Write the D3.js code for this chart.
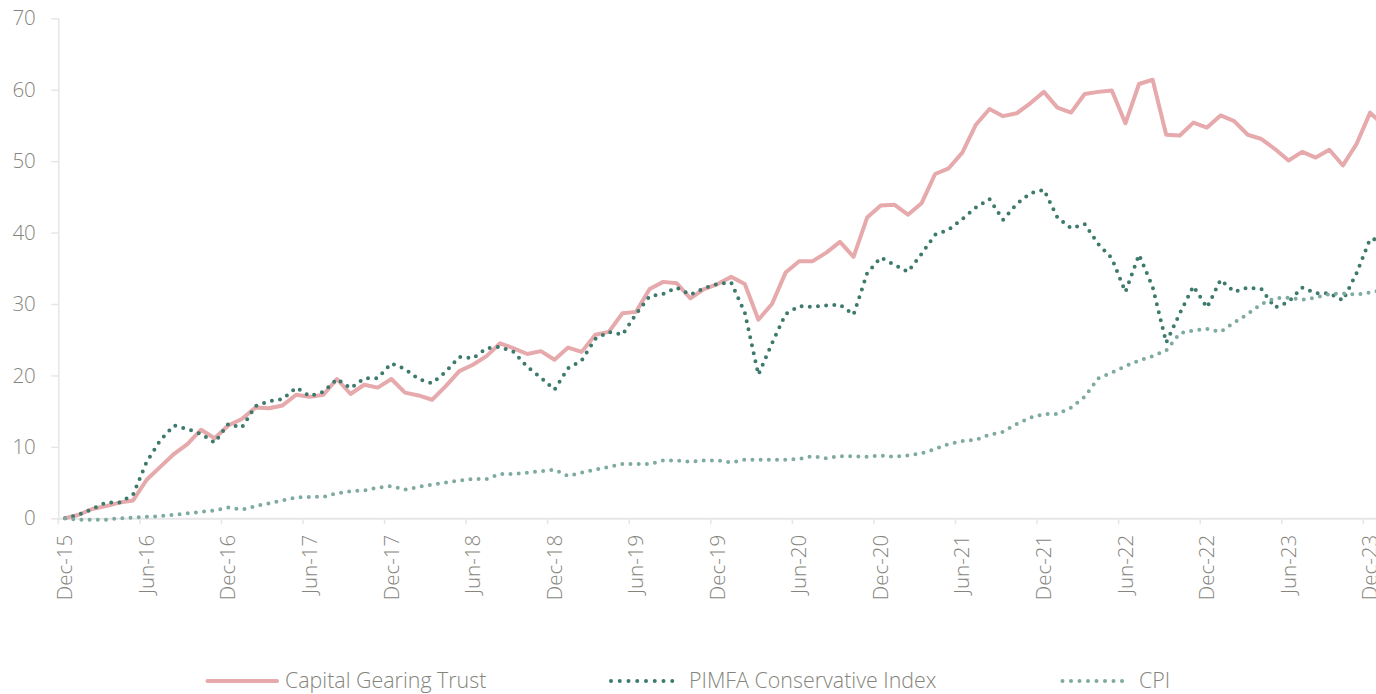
<!DOCTYPE html>
<html><head><meta charset="utf-8">
<script src="https://cdn.jsdelivr.net/npm/d3@7"></script>
<style>
body{margin:0;background:#fff}
svg{display:block}
text{font-family:"Open Sans",sans-serif;font-weight:300;fill:#85857d}
</style>
</head><body>
<svg id="c" width="1376" height="694"></svg>
<script>
// Monthly categories Dec-15 .. Jan-24
const categories = d3.utcMonth.range(new Date(Date.UTC(2015,11,1)), new Date(Date.UTC(2024,1,1))).map(d3.utcFormat("%b-%y"));
const tickLabels = ["Dec-15","Jun-16","Dec-16","Jun-17","Dec-17","Jun-18","Dec-18","Jun-19","Dec-19","Jun-20","Dec-20","Jun-21","Dec-21","Jun-22","Dec-22","Jun-23","Dec-23"];
const yTicks = [0,10,20,30,40,50,60,70];
const seriesNames = ["Capital Gearing Trust","PIMFA Conservative Index","CPI"];

const cgt = [0,0.5,1.3,1.7,2.2,2.5,5.4,7.2,9.0,10.4,12.4,11.2,13.0,13.9,15.5,15.4,15.8,17.3,17.0,17.3,
19.5,17.4,18.7,18.3,19.5,17.6,17.2,16.6,18.5,20.6,21.5,22.7,24.5,23.8,23.0,23.4,22.2,23.9,23.3,25.7,
26.1,28.7,28.9,32.1,33.1,32.9,30.8,32.1,32.8,33.8,32.8,27.8,30.0,34.4,36.0,36.0,37.2,38.7,36.6,42.1,
43.8,43.9,42.5,44.1,48.2,49.0,51.2,55.1,57.3,56.3,56.7,58.1,59.7,57.5,56.8,59.4,59.7,59.9,55.3,60.8,
61.4,53.7,53.6,55.4,54.7,56.4,55.6,53.7,53.1,51.7,50.1,51.3,50.5,51.6,49.4,52.4,56.8,55.0];

const pimfa = [0,0.5,1.3,2.2,2.2,3.3,7.9,10.9,13.0,12.5,11.8,10.6,13.2,12.7,15.7,16.4,16.7,18.3,17.1,17.7,
19.5,18.2,19.6,19.6,21.7,20.9,19.5,18.9,20.5,22.6,22.4,23.8,24.0,23.3,21.2,19.7,18.0,21.0,22.1,25.1,
26.1,25.7,28.6,31.1,31.4,32.3,31.3,32.2,32.8,33.0,28.8,20.1,24.5,28.6,29.7,29.6,29.8,29.9,28.5,34.3,
36.5,35.5,34.5,37.0,39.7,40.4,41.9,43.5,44.7,41.8,44.0,45.5,46.0,42.1,40.6,41.2,38.4,36.4,31.7,36.9,
32.4,24.6,28.7,32.5,29.5,33.4,31.7,32.3,32.1,29.5,30.3,32.3,31.5,31.5,30.5,34.3,39.1,39.0];

const cpi = [0,-0.2,-0.2,-0.2,0.0,0.1,0.2,0.3,0.5,0.7,0.9,1.1,1.5,1.2,1.7,2.1,2.5,2.9,3.0,3.0,
3.5,3.8,3.9,4.3,4.5,4.0,4.4,4.7,5.0,5.3,5.5,5.5,6.2,6.2,6.4,6.6,6.8,5.9,6.4,6.8,
7.2,7.6,7.6,7.6,8.1,8.1,7.9,8.1,8.1,7.8,8.2,8.2,8.2,8.2,8.3,8.7,8.4,8.7,8.7,8.6,
8.8,8.6,8.8,9.1,9.7,10.4,10.8,11.0,11.7,12.1,13.2,14.1,14.6,14.6,15.5,17.0,19.6,20.4,21.3,22.1,
22.7,23.5,25.9,26.3,26.5,26.1,27.4,28.6,30.0,30.8,30.9,30.6,30.9,31.4,31.5,31.3,31.6,32.0];

const svg = d3.select("#c");
const plotLeft = 58.3, plotTop = 18.3, plotBottom = 518.3, step = 13.594;
const x = d3.scaleBand().domain(categories).range([plotLeft, plotLeft + categories.length * step]);
const y = d3.scaleLinear().domain([0,70]).range([plotBottom, plotTop]);
const bw = x.bandwidth();
const axisColor = "#e6e6e6";

// Y axis
const ya = svg.append("g").attr("transform", `translate(${plotLeft},0)`)
  .call(d3.axisLeft(y).tickValues(yTicks).tickSize(7).tickSizeOuter(0).tickPadding(15.5));
ya.select(".domain").attr("stroke", axisColor).attr("stroke-width", 1.5);
ya.selectAll(".tick line").attr("stroke", axisColor).attr("stroke-width", 1.5);
ya.selectAll(".tick text").attr("font-size", 20.5).attr("fill", "#85857d")
  .style("font-family", '"Open Sans", sans-serif').style("font-weight", 300);

// X axis
const xa = svg.append("g").attr("transform", `translate(0,${plotBottom})`)
  .call(d3.axisBottom(x).tickValues(tickLabels).tickSize(6).tickSizeOuter(0));
xa.select(".domain").attr("stroke", axisColor).attr("stroke-width", 2);
xa.selectAll(".tick line").attr("stroke", axisColor).attr("stroke-width", 1.5)
  .attr("x1", -bw/2).attr("x2", -bw/2);
xa.selectAll(".tick text")
  .attr("transform", "rotate(-90)")
  .attr("x", -16.5).attr("y", 0).attr("dy", "0.35em")
  .attr("text-anchor", "end")
  .attr("font-size", 20.5).attr("fill", "#85857d")
  .style("font-family", '"Open Sans", sans-serif').style("font-weight", 300);

// Lines
const line = d3.line().x((d,i) => x(categories[i]) + bw/2).y(d => y(d));
const styles = [
  {data: cgt, color: "#e6a9ac", dash: null},
  {data: pimfa, color: "#3d7a6d", dash: "0,8.2"},
  {data: cpi, color: "#7eaaa1", dash: "0,8.2"}
];
styles.forEach(s => {
  svg.append("path").datum(s.data).attr("d", line)
    .attr("fill", "none").attr("stroke", s.color)
    .attr("stroke-width", 4).attr("stroke-linecap", "round").attr("stroke-linejoin", "round")
    .attr("stroke-dasharray", s.dash);
});

// Legend
const legendY = 681;
const legendItems = [
  {x0: 207.5, x1: 277, tx: 285, color: "#e6a9ac", dash: null},
  {x0: 611, x1: 681, tx: 689, color: "#3d7a6d", dash: "0,8.75"},
  {x0: 1062.5, x1: 1130.5, tx: 1139, color: "#7eaaa1", dash: "0,8.5"}
];
legendItems.forEach((it, k) => {
  svg.append("line").attr("x1", it.x0).attr("x2", it.x1).attr("y1", legendY).attr("y2", legendY)
    .attr("stroke", it.color).attr("stroke-width", 4).attr("stroke-linecap", "round")
    .attr("stroke-dasharray", it.dash);
  svg.append("text").attr("x", it.tx).attr("y", legendY).attr("dy", "0.35em")
    .attr("font-size", 21.4).text(seriesNames[k]);
});
</script>
</body></html>
